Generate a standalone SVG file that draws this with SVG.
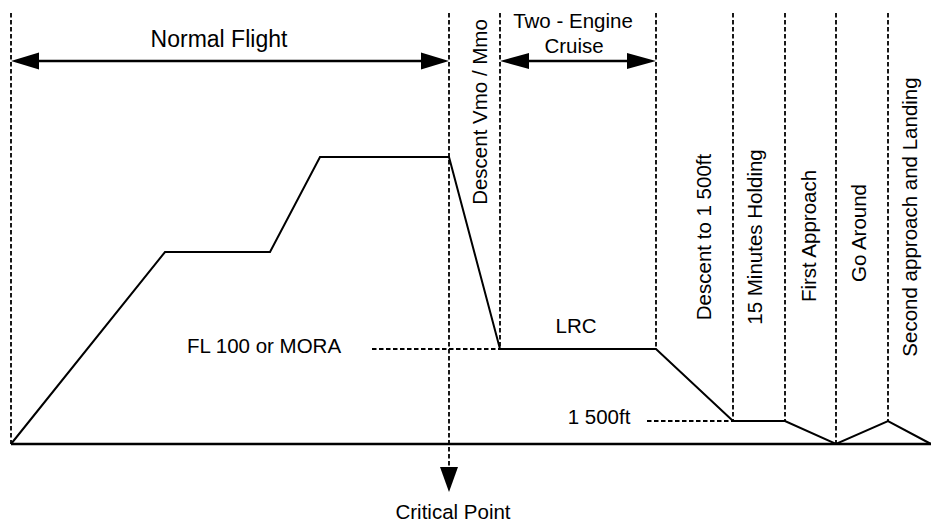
<svg xmlns="http://www.w3.org/2000/svg" width="931" height="526" viewBox="0 0 931 526">
<style>
text{font-family:"Liberation Sans",Arial,sans-serif;font-size:20.5px;fill:#000}
.dash{stroke:#000;stroke-width:1.8;stroke-dasharray:4.5 2.5;fill:none}
.solid{stroke:#000;stroke-width:2;fill:none}
.ground{stroke:#000;stroke-width:2.6;fill:none}
.arr{stroke:#000;stroke-width:2.5;fill:none}
.head{fill:#000;stroke:none}
</style>
<rect width="931" height="526" fill="#fff"/>
<g id="connectors">
<line class="dash" x1="11" y1="13" x2="11" y2="444"/>
<line class="dash" x1="449" y1="13" x2="449" y2="468"/>
<line class="dash" x1="500" y1="13" x2="500" y2="349"/>
<line class="dash" x1="656" y1="13" x2="656" y2="349"/>
<line class="dash" x1="733" y1="13" x2="733" y2="421"/>
<line class="dash" x1="785" y1="13" x2="785" y2="421"/>
<line class="dash" x1="836" y1="13" x2="836" y2="444"/>
<line class="dash" x1="888" y1="13" x2="888" y2="421"/>
<line class="dash" x1="372" y1="349" x2="500" y2="349"/>
<line class="dash" x1="647" y1="421" x2="733" y2="421"/>
<line class="ground" x1="11" y1="444" x2="931" y2="444"/>
<polyline class="solid" points="11,444 165,252 270,252 320,157 449,157 500,349 656,349 733,421 785,421 836,444 888,421 931,444"/>
<line class="arr" x1="36" y1="61" x2="424" y2="61"/>
<polygon class="head" points="11,61 39,52.5 39,69.5"/>
<polygon class="head" points="449,61 421,52.5 421,69.5"/>
<line class="arr" x1="525" y1="61" x2="631" y2="61"/>
<polygon class="head" points="500,61 529,53 529,69"/>
<polygon class="head" points="656,61 627,53 627,69"/>
<polygon class="head" points="449,492 440,467 458,467"/>
</g>
<g id="normal-flight"><text x="219" y="47" text-anchor="middle" style="font-size:23px">Normal Flight</text></g>
<g id="two-engine-cruise"><text x="573" y="28" text-anchor="middle">Two - Engine</text><text x="574" y="53" text-anchor="middle">Cruise</text></g>
<g id="descent-vmo"><text transform="translate(487,112) rotate(-90)" text-anchor="middle">Descent Vmo / Mmo</text></g>
<g id="descent-1500"><text transform="translate(711,237) rotate(-90)" text-anchor="middle">Descent to 1 500ft</text></g>
<g id="holding"><text transform="translate(762,237) rotate(-90)" text-anchor="middle">15 Minutes Holding</text></g>
<g id="first-approach"><text transform="translate(816,236) rotate(-90)" text-anchor="middle">First Approach</text></g>
<g id="go-around"><text transform="translate(866,233) rotate(-90)" text-anchor="middle">Go Around</text></g>
<g id="second-approach"><text transform="translate(917,217) rotate(-90)" text-anchor="middle">Second approach and Landing</text></g>
<g id="fl100"><text x="264" y="353" text-anchor="middle">FL 100 or MORA</text></g>
<g id="lrc"><text x="576" y="333" text-anchor="middle">LRC</text></g>
<g id="ft1500"><text x="599" y="424" text-anchor="middle">1 500ft</text></g>
<g id="critical-point"><text x="453" y="519" text-anchor="middle">Critical Point</text></g>
</svg>
